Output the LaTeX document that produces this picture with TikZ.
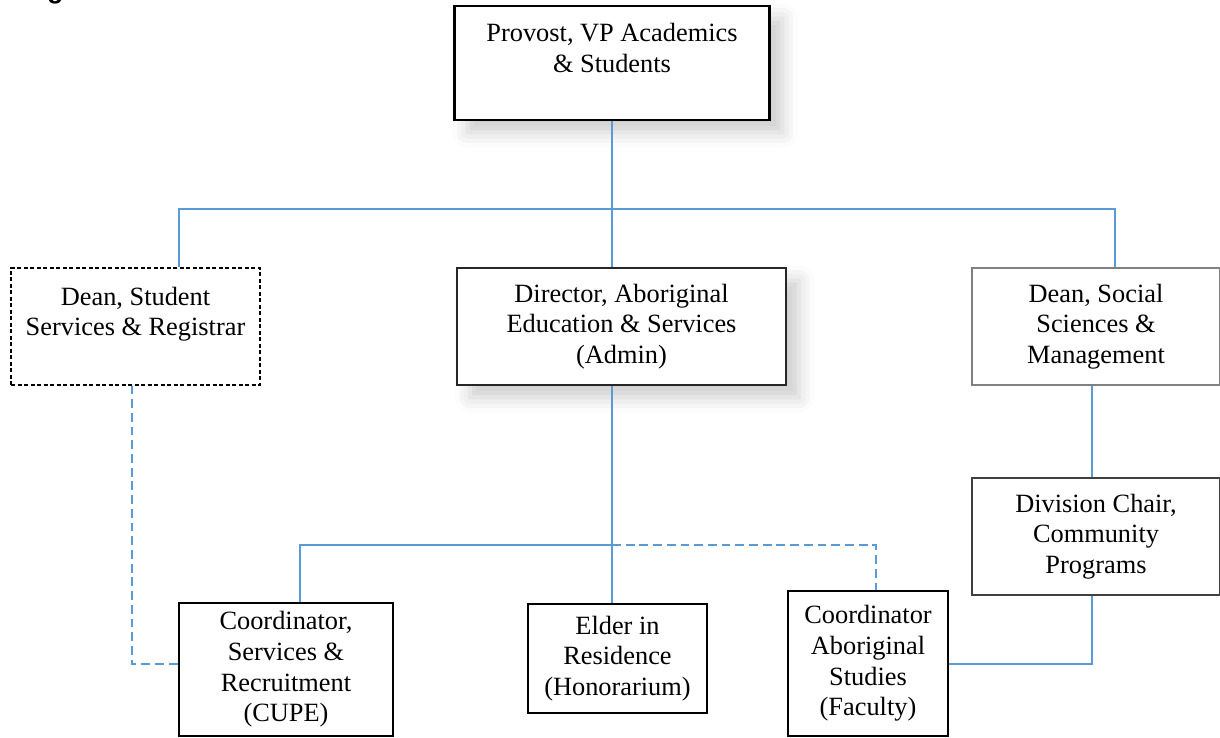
\documentclass[tikz,border=0pt]{standalone}
\usepackage{fontspec}
\setmainfont{Liberation Serif}
\setsansfont{Liberation Sans}
\usetikzlibrary{shadows.blur}
\definecolor{linkblue}{RGB}{91,155,213}

\begin{document}
\begin{tikzpicture}[x=0.2mm, y=-0.2mm,
    every node/.style={font=\fontsize{15}{17.4}\selectfont, align=center, inner sep=0pt},
    post/.style={draw=black, line width=0.6pt, fill=white},
    softshadow/.style={blur shadow={shadow xshift=2.6mm, shadow yshift=-2.5mm, shadow opacity=20, shadow blur radius=3mm}},
    link/.style={linkblue, line width=0.6pt},
    dashlink/.style={dash pattern=on 5pt off 2.8pt}]
    \useasboundingbox (0,0) rectangle (1220,737);
    \node[anchor=base west, font=\sffamily\bfseries\fontsize{15}{18}\selectfont] (title) at (47,-1) {g};
    % top level
    \node[post, softshadow, line width=1.4pt, minimum width=63mm, minimum height=22.8mm] (prov) at (612,63) {Provost, VP Academics\\ \& Students\\ \mbox{}};
    \coordinate (bus) at (612,209);
    % second row
    \node[post, dash pattern=on 2.3pt off 1.4pt, minimum width=49.8mm, minimum height=23.4mm] (dss) at (135.5,326.5) {Dean, Student\\ Services \& Registrar\\ \mbox{}};
    \node[post, softshadow, draw=black!85, minimum width=65.8mm, minimum height=23.4mm] (dir) at (621.5,326.5) {Director, Aboriginal\\ Education \& Services\\ (Admin)};
    \node[post, draw=black!50, minimum width=49.6mm, minimum height=23.4mm] (dssm) at (1096,326.5) {Dean, Social\\ Sciences \&\\ Management};
    \node[post, draw=black!75, minimum width=49.6mm, minimum height=23.4mm] (div) at (1096,536.5) {Division Chair,\\ Community\\ Programs};
    % bottom row
    \coordinate (lowbus) at (612,545);
    \node[post, minimum width=42.8mm, minimum height=26.6mm] (csr) at (286,669.5) {Coordinator,\\ Services \&\\ Recruitment\\ (CUPE)};
    \node[post, minimum width=35.8mm, minimum height=21.8mm] (elder) at (617.5,658.5) {Elder in\\ Residence\\ (Honorarium)};
    \node[post, minimum width=32mm, minimum height=29mm] (cas) at (868,663.5) {Coordinator\\ Aboriginal\\ Studies\\ (Faculty)};
    % connectors
    \draw[link] (prov.south) -- (prov.south |- dir.north);
    \draw[link] ([xshift=8.7mm]dss.north) |- (bus) -| ([xshift=3.8mm]dssm.north);
    \draw[link] ([xshift=-0.8mm]dssm.south) -- ([xshift=-0.8mm]div.north);
    \draw[link] ([xshift=-0.8mm]div.south) |- ([yshift=-0.1mm]cas.east);
    \draw[link] (prov.south |- dir.south) -- (prov.south |- elder.north);
    \draw[link] ([xshift=2.8mm]csr.north) |- (lowbus);
    \draw[link, dashlink] (lowbus) -| ([xshift=1.6mm]cas.north);
    \draw[link, dashlink] ([xshift=-0.7mm]dss.south) |- ([yshift=1.1mm]csr.west);
\end{tikzpicture}
\end{document}
